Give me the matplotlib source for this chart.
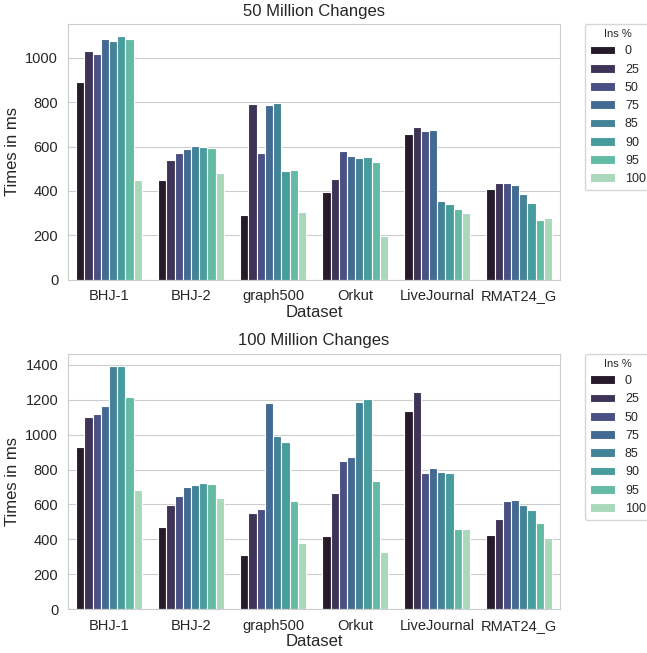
import matplotlib
matplotlib.use("Agg")
import matplotlib.pyplot as plt
import numpy as np
import seaborn as sns

sns.set_style("whitegrid")
plt.rcParams['font.family'] = ['Liberation Sans', 'DejaVu Sans']

datasets = ["BHJ-1", "BHJ-2", "graph500", "Orkut", "LiveJournal", "RMAT24_G"]
ins_pct = ["0", "25", "50", "75", "85", "90", "95", "100"]

# rows = insert percentage, cols = dataset
times_50m = [
    [893, 450, 292, 396, 656, 409],
    [1030, 541, 792, 452, 686, 437],
    [1018, 571, 571, 582, 669, 438],
    [1086, 591, 786, 557, 674, 427],
    [1074, 601, 798, 547, 356, 388],
    [1097, 600, 489, 554, 340, 344],
    [1086, 595, 495, 530, 319, 270],
    [450, 483, 304, 196, 299, 278],
]
times_100m = [
    [926, 472, 313, 418, 1135, 426],
    [1100, 596, 552, 667, 1244, 518],
    [1117, 648, 573, 848, 781, 621],
    [1163, 701, 1179, 869, 808, 627],
    [1393, 711, 989, 1188, 783, 596],
    [1393, 724, 957, 1202, 781, 568],
    [1217, 718, 619, 732, 457, 495],
    [684, 638, 380, 327, 460, 409],
]

# same muted look as seaborn's barplot (saturation 0.75)
colors = [sns.desaturate(c, 0.75) for c in sns.color_palette("mako", len(ins_pct))]

fig, axes = plt.subplots(2, 1, figsize=(6.47, 6.53), dpi=100)
fig.subplots_adjust(left=0.105, right=0.866, top=0.963, bottom=0.067, hspace=0.29)

x = np.arange(len(datasets))
w = 0.8 / len(ins_pct)

for ax, data, title in zip(axes, [times_50m, times_100m],
                           ["50 Million Changes", "100 Million Changes"]):
    for i, (pct, vals) in enumerate(zip(ins_pct, data)):
        ax.bar(x - 0.4 + w * (i + 0.5), vals, width=w, color=colors[i],
               edgecolor="white", linewidth=0.8, label=pct)
    ax.set_xticks(x)
    ax.set_xticklabels(datasets)
    ax.set_xlim(-0.5, len(datasets) - 0.5)
    ax.set_title(title, fontsize=12)
    ax.set_xlabel("Dataset", fontsize=12, labelpad=1)
    ax.set_ylabel("Times in ms", fontsize=12)
    ax.tick_params(labelsize=10.5)
    ax.xaxis.grid(False)
    ax.legend(title="Ins %", bbox_to_anchor=(1.05, 1), loc="upper left",
              borderaxespad=0, fontsize=9, title_fontsize=8)

plt.savefig("out.png")
